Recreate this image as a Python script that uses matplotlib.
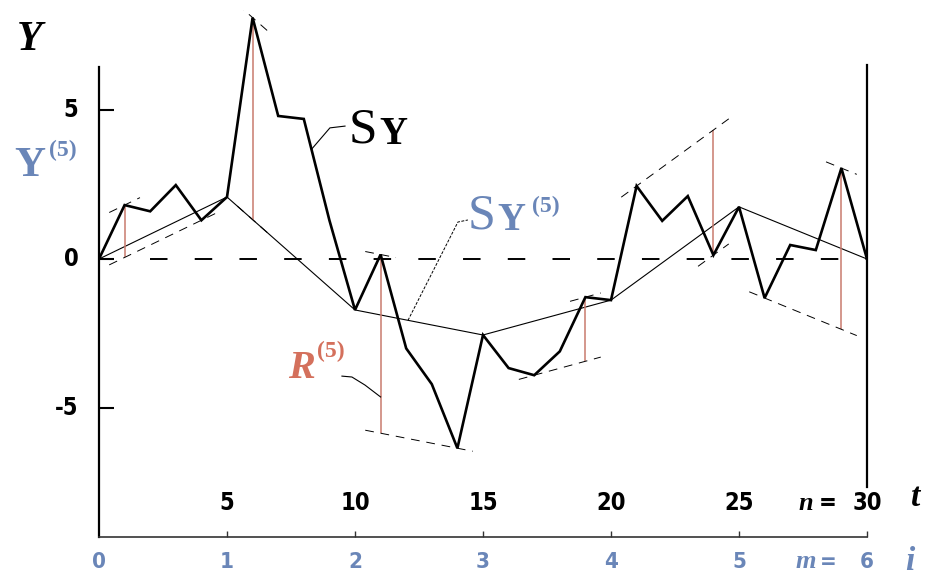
import numpy as np
import matplotlib.pyplot as plt

# cumulative sums SY(t), t = 0..n
t = np.arange(31)
sy = np.array([0.0, 1.81, 1.6, 2.48, 1.3, 2.08, 8.1, 4.8, 4.7, 1.3,
               -1.71, 0.15, -3.0, -4.2, -6.35, -2.55, -3.66, -3.9, -3.1, -1.28,
               -1.38, 2.45, 1.28, 2.11, 0.13, 1.75, -1.31, 0.47, 0.3, 3.05, 0.0])
block = 5
# time step where the range R(5) of each block is drawn
range_at = [1, 6, 11, 19, 24, 29]

t_labels = [5, 10, 15, 20, 25]
i_labels = [0, 1, 2, 3, 4, 5]
y_labels = [5, 0, -5]

BLUE = '#6a86b8'
RED = '#d4705c'
RED_LINE = '#c97a6e'

W, H = 925, 577
x0_px, x1_px = 99, 867      # t = 0 and t = 30
y0_px, y_scale = 259, 29.8  # Y = 0 and pixels per unit


def fx(x):
    return x / W


def fy(y):
    return 1 - y / H


fig = plt.figure(figsize=(W / 100, H / 100), dpi=100)
ax = fig.add_axes([fx(x0_px), fy(537), (x1_px - x0_px) / W, (537 - 10) / H])
ax.set_xlim(0, 30)
ax.set_ylim((y0_px - 537) / y_scale, (y0_px - 10) / y_scale)
ylo = (y0_px - 537) / y_scale

ax.spines['top'].set_visible(False)
ax.spines['left'].set_bounds(ylo, 6.45)
ax.spines['right'].set_bounds(-7.65, 6.5)
ax.spines['left'].set_linewidth(1.6)
ax.spines['right'].set_linewidth(1.6)
ax.spines['bottom'].set_linewidth(1.2)
ax.spines['bottom'].set_color('#333333')
ax.set_xticks([5, 10, 15, 20, 25, 30])
ax.set_yticks(y_labels)
ax.tick_params(axis='x', direction='in', length=4.5, width=1.0, labelbottom=False, color='#333333')
ax.tick_params(axis='y', direction='in', length=11, width=1.5, labelleft=False, right=False)

# zero level
ax.plot([2, 30], [0, 0], color='black', lw=1.4, dashes=(9, 14))

# aggregated series SY(5): every 5th point of SY
ti = t[::block]
syi = sy[::block]
ax.plot(ti, syi, color='black', lw=0.8)

# range of each block around the straight segment between its ends
for k, tr in enumerate(range_at):
    a, b = k * block, (k + 1) * block
    tt = t[a:b + 1]
    base = sy[a] + (sy[b] - sy[a]) * (tt - a) / block
    dev = sy[a:b + 1] - base
    j_top, j_bot = int(np.argmax(dev)), int(np.argmin(dev[1:-1])) + 1
    top, bot = dev[j_top], min(dev[j_bot], 0.0)
    if bot == 0.0:
        j_bot = tr - a
    base_r = sy[a] + (sy[b] - sy[a]) * (tr - a) / block
    ax.vlines(tr, base_r + bot, base_r + top, color=RED_LINE, lw=1.1)
    for j, off in ((j_top, top), (j_bot, bot)):
        lo = max(min(a + j, tr) - 0.6, a - 0.2)
        hi = min(max(a + j, tr) + 0.6, b + 0.2)
        xs = np.array([lo, hi])
        ys = sy[a] + (sy[b] - sy[a]) * (xs - a) / block + off
        ax.plot(xs, ys, color='black', lw=0.7, dashes=(9, 7))

# cumulative series SY
ax.plot(t, sy, color='black', lw=1.9, solid_joinstyle='miter')

# leader lines for the labels
t_sy = 8.3
ax.plot([t_sy, 9.02, 9.61], [np.interp(t_sy, t, sy), 4.40, 4.46], color='black', lw=0.8)
t_agg = 12.07
ax.plot([t_agg, 14.02, 14.41], [np.interp(t_agg, ti, syi), 1.24, 1.31],
        color='black', lw=0.7, dashes=(3, 1.5))
ax.plot([9.49, 9.88, 10.39, range_at[2]], [-3.93, -3.96, -4.23, -4.63],
        color='black', lw=0.8)

# tick labels
num_font = dict(family='DejaVu Sans', fontstretch='condensed', fontweight='bold')
serif_bi = dict(family='Liberation Serif', fontweight='bold', fontstyle='italic')
for v in y_labels:
    ax.text(-0.8, v, str(v), ha='right', va='center', fontsize=17,
            clip_on=False, **num_font)
y_t = (y0_px - 503) / y_scale
y_i = (y0_px - 562) / y_scale
for v in t_labels:
    ax.text(v, y_t, str(v), ha='center', va='center', fontsize=17, **num_font)
ax.text(30, y_t, '30', ha='center', va='center', fontsize=17, **num_font)
for v in i_labels:
    ax.text(v * block, y_i, str(v), ha='center', va='center', fontsize=16,
            color=BLUE, clip_on=False, **num_font)
ax.text(30, y_i, '6', ha='center', va='center', fontsize=16, color=BLUE,
        clip_on=False, **num_font)

fig.text(fx(806), fy(503), 'n', ha='center', va='center', fontsize=19, **serif_bi)
fig.text(fx(828), fy(503), '=', ha='center', va='center', fontsize=17, **num_font)
fig.text(fx(806), fy(562), 'm', ha='center', va='center', fontsize=19, color=BLUE, **serif_bi)
fig.text(fx(828), fy(562), '=', ha='center', va='center', fontsize=16, color=BLUE, **num_font)
fig.text(fx(916), fy(497), 't', ha='center', va='center', fontsize=24, **serif_bi)
fig.text(fx(910), fy(561), 'i', ha='center', va='center', fontsize=24, color=BLUE, **serif_bi)

# axis and series names
fig.text(fx(30), fy(40), 'Y', ha='center', va='center', fontsize=30, **serif_bi)
fig.text(fx(30), fy(166), 'Y', ha='center', va='center', fontsize=31,
         family='Liberation Serif', fontweight='bold', color=BLUE)
fig.text(fx(63), fy(150), '(5)', ha='center', va='center', fontsize=17,
         family='Liberation Serif', fontweight='bold', color=BLUE)

fig.text(fx(363), fy(130), 'S', ha='center', va='center', fontsize=37, family='Liberation Serif')
fig.text(fx(393), fy(134), 'Y', ha='center', va='center', fontsize=28,
         family='Liberation Serif', fontweight='bold')

fig.text(fx(482), fy(216), 'S', ha='center', va='center', fontsize=36,
         family='Liberation Serif', color=BLUE)
fig.text(fx(511), fy(221), 'Y', ha='center', va='center', fontsize=28,
         family='Liberation Serif', fontweight='bold', color=BLUE)
fig.text(fx(546), fy(206), '(5)', ha='center', va='center', fontsize=17,
         family='Liberation Serif', fontweight='bold', color=BLUE)

fig.text(fx(301), fy(368), 'R', ha='center', va='center', fontsize=29, color=RED, **serif_bi)
fig.text(fx(331), fy(351), '(5)', ha='center', va='center', fontsize=17,
         family='Liberation Serif', fontweight='bold', color=RED)

fig.savefig('out.png', dpi=100)
